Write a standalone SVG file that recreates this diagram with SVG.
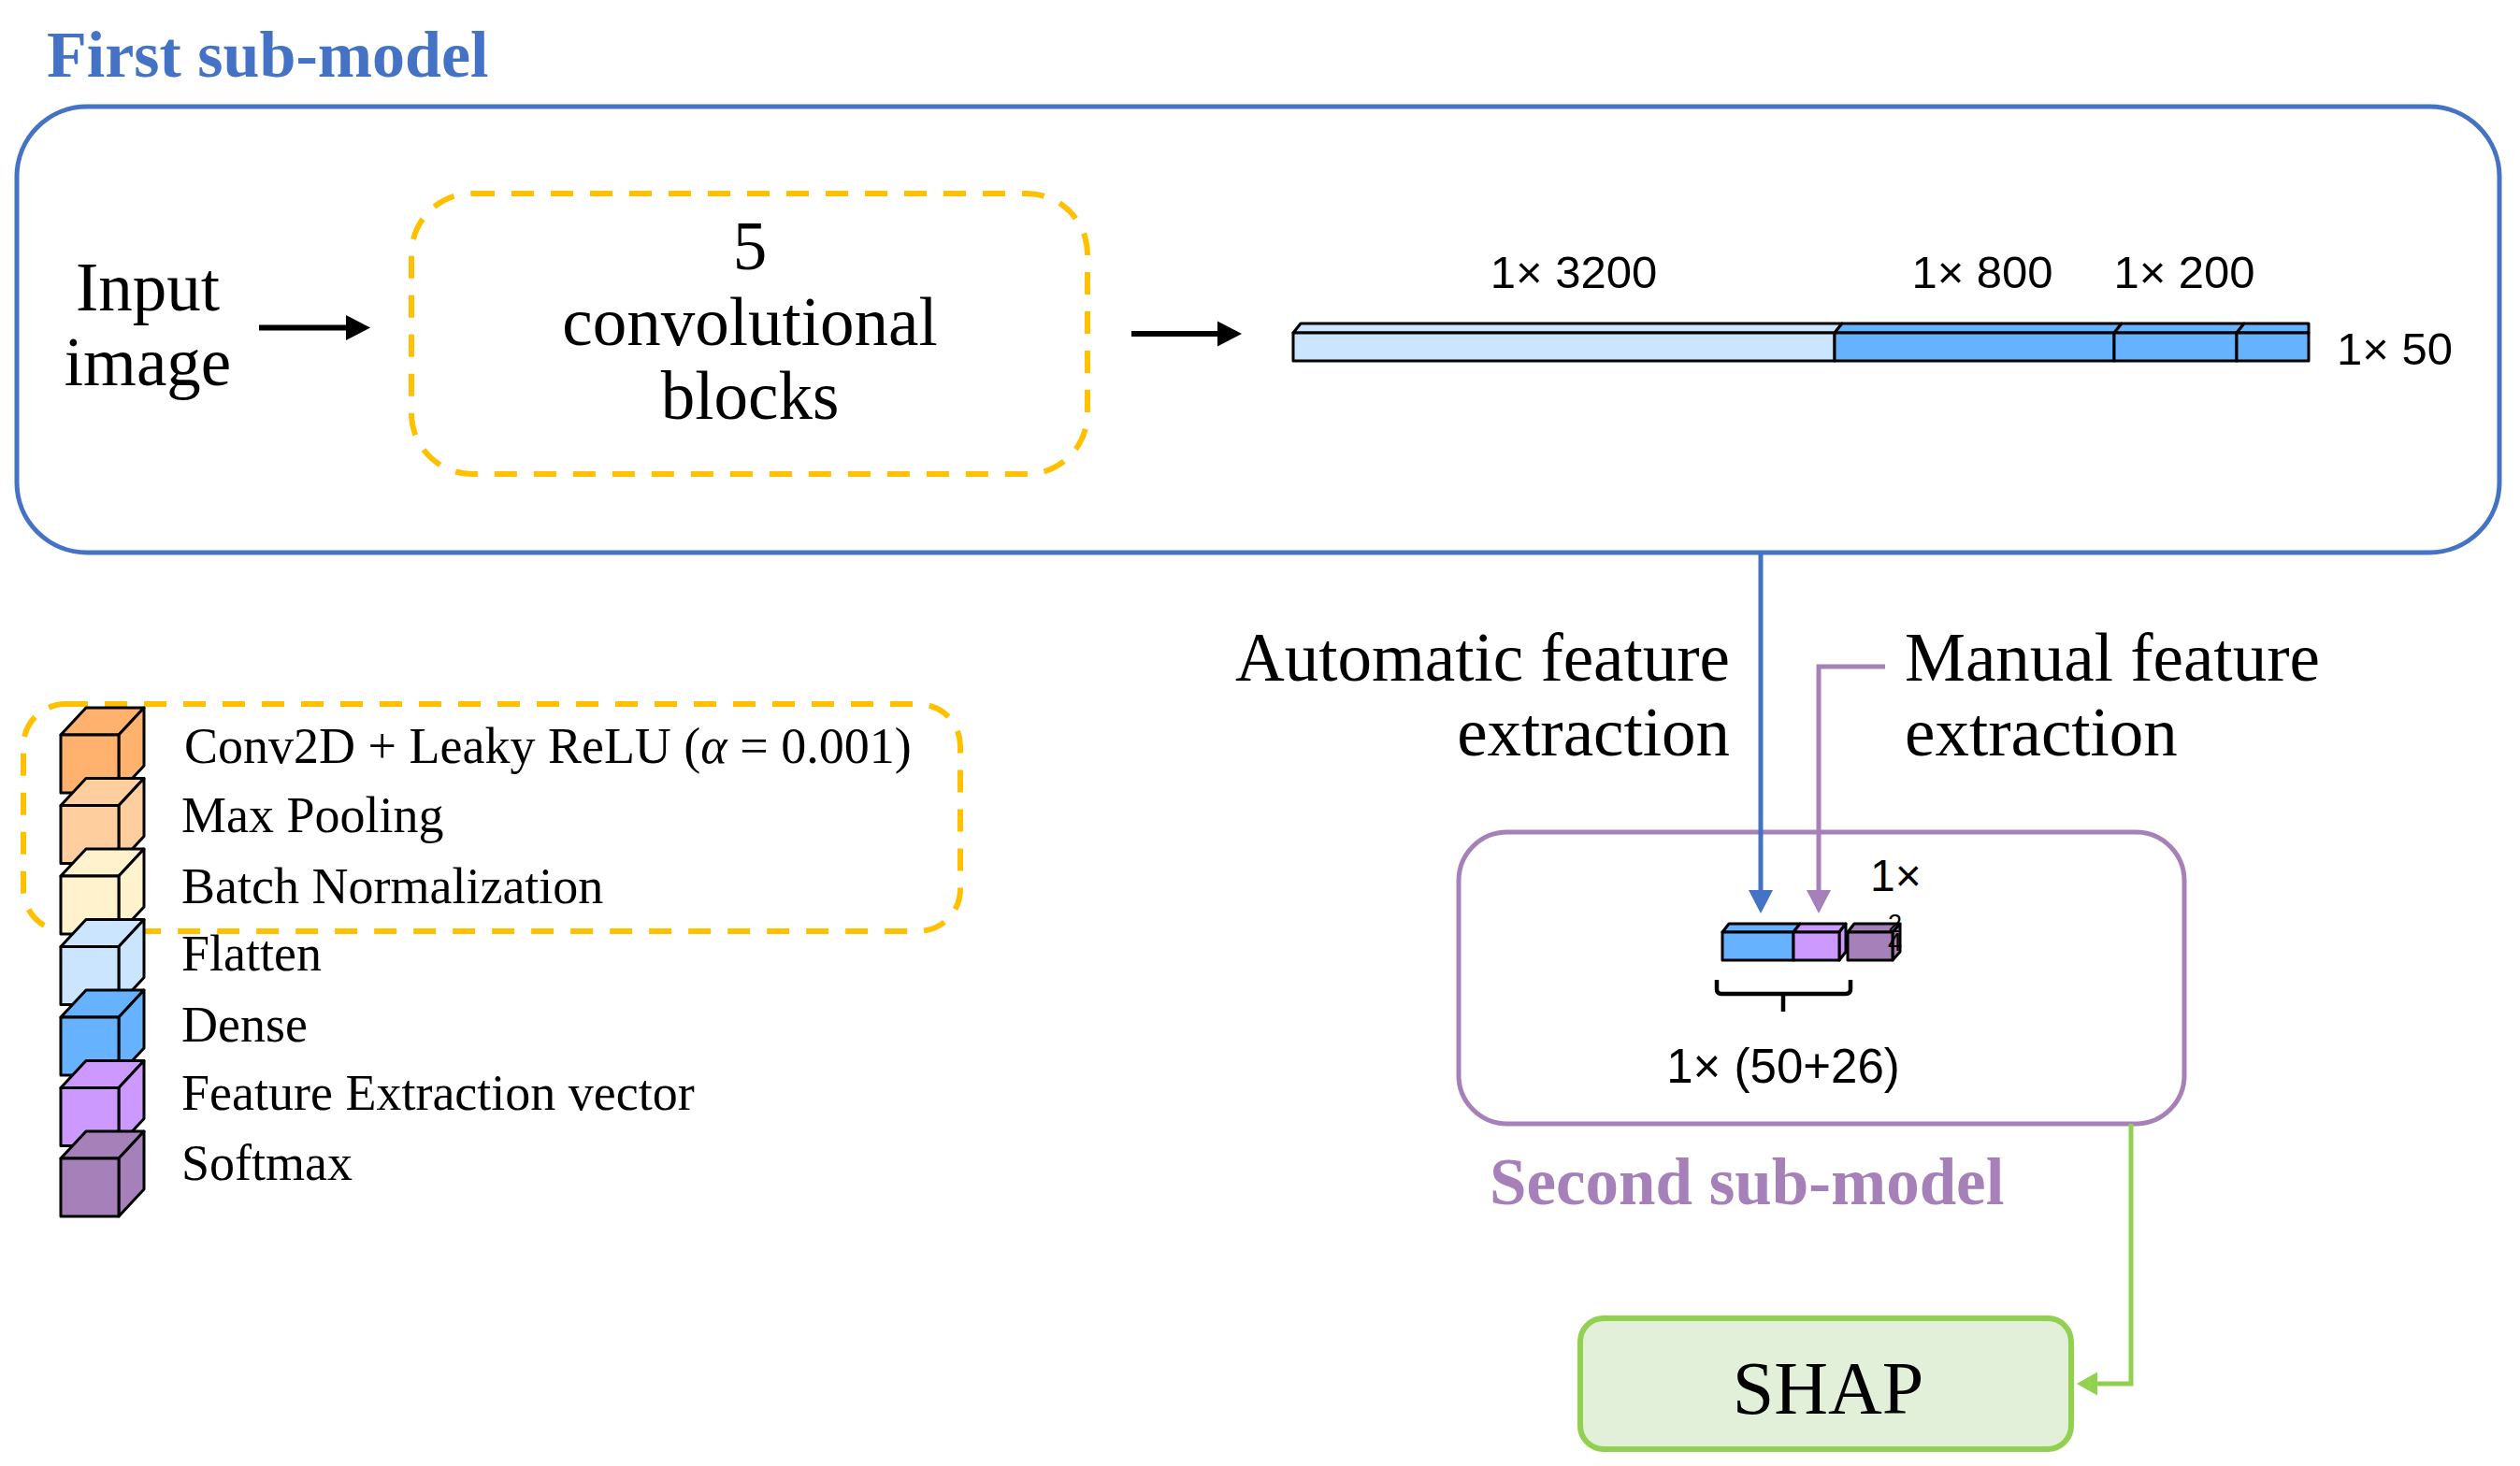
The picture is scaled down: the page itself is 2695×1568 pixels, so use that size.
<svg xmlns="http://www.w3.org/2000/svg" width="2695" height="1568" viewBox="0 0 2695 1568">
<defs>
<style>
.serif{font-family:"Liberation Serif","Times New Roman",serif;fill:#000}
.big{font-size:73px}
.leg{font-size:54px}
.title{font-size:70px;font-weight:bold}
.sans{font-family:"Liberation Sans",Arial,sans-serif;fill:#000}
.dim{font-size:49px}
.cube{stroke:#000;stroke-width:3;stroke-linejoin:round}
.dash{fill:none;stroke:#FFC000;stroke-width:6;stroke-dasharray:24 18}
</style>
<marker id="ahBlack" markerUnits="userSpaceOnUse" markerWidth="28" markerHeight="28" refX="2" refY="13.5" orient="auto" viewBox="0 0 28 27"><path d="M0,0 L26,13.5 L0,27 z" fill="#000"/></marker>
<marker id="ahBlue" markerUnits="userSpaceOnUse" markerWidth="28" markerHeight="28" refX="2" refY="13" orient="auto" viewBox="0 0 28 26"><path d="M0,0 L25,13 L0,26 z" fill="#4472C4"/></marker>
<marker id="ahPurple" markerUnits="userSpaceOnUse" markerWidth="28" markerHeight="28" refX="2" refY="13" orient="auto" viewBox="0 0 28 26"><path d="M0,0 L25,13 L0,26 z" fill="#A680B8"/></marker>
<marker id="ahGreen" markerUnits="userSpaceOnUse" markerWidth="26" markerHeight="26" refX="2" refY="12.5" orient="auto" viewBox="0 0 26 25"><path d="M0,0 L22,12.5 L0,25 z" fill="#92D050"/></marker>
</defs>
<rect width="2695" height="1568" fill="#fff"/>

<g id="first-submodel">
<text class="serif title" x="50" y="82" style="fill:#4472C4">First sub-model</text>
<rect x="18" y="114" width="2655" height="477" rx="75" ry="75" fill="none" stroke="#4472C4" stroke-width="5"/>
</g>

<g id="input-image">
<text class="serif big" x="158" y="332" text-anchor="middle">Input</text>
<text class="serif big" x="158" y="412" text-anchor="middle">image</text>
</g>

<g id="conv-blocks">
<rect class="dash" x="440" y="207" width="723" height="300" rx="65" ry="65"/>
<text class="serif big" x="802" y="288" text-anchor="middle">5</text>
<text class="serif big" x="802" y="369" text-anchor="middle">convolutional</text>
<text class="serif big" x="802" y="448" text-anchor="middle">blocks</text>
</g>

<g id="dense-vector">
<polygon class="cube" fill="#CCE5FF" points="1383,356 1391,346 1970,346 1962,356"/>
<rect class="cube" fill="#CCE5FF" x="1383" y="356" width="579" height="30"/>
<polygon class="cube" fill="#66B2FF" points="1962,356 1970,346 2269,346 2261,356"/>
<rect class="cube" fill="#66B2FF" x="1962" y="356" width="299" height="30"/>
<polygon class="cube" fill="#66B2FF" points="2261,356 2269,346 2400,346 2392,356"/>
<rect class="cube" fill="#66B2FF" x="2261" y="356" width="131" height="30"/>
<polygon class="cube" fill="#66B2FF" points="2392,356 2400,346 2469,346 2469,356"/>
<rect class="cube" fill="#66B2FF" x="2392" y="356" width="77" height="30"/>
<text class="sans dim" x="1683" y="308" text-anchor="middle">1× 3200</text>
<text class="sans dim" x="2120" y="308" text-anchor="middle">1× 800</text>
<text class="sans dim" x="2336" y="308" text-anchor="middle">1× 200</text>
<text class="sans dim" x="2499" y="390">1× 50</text>
</g>

<g id="legend">
<rect class="dash" x="25" y="753" width="1002" height="243" rx="45" ry="45"/>
<g id="cube-conv">
<polygon class="cube" fill="#FFB26E" points="65,786 92,757 154,757 127,786"/>
<polygon class="cube" fill="#FFB26E" points="127,786 154,757 154,819 127,848"/>
<rect class="cube" fill="#FFB26E" x="65" y="786" width="62" height="62"/>
</g>
<g id="cube-pool">
<polygon class="cube" fill="#FFCE9E" points="65,861.5 92,832.5 154,832.5 127,861.5"/>
<polygon class="cube" fill="#FFCE9E" points="127,861.5 154,832.5 154,894.5 127,923.5"/>
<rect class="cube" fill="#FFCE9E" x="65" y="861.5" width="62" height="62"/>
</g>
<g id="cube-bn">
<polygon class="cube" fill="#FFF2CC" points="65,937 92,908 154,908 127,937"/>
<polygon class="cube" fill="#FFF2CC" points="127,937 154,908 154,970 127,999"/>
<rect class="cube" fill="#FFF2CC" x="65" y="937" width="62" height="62"/>
</g>
<g id="cube-flatten">
<polygon class="cube" fill="#CCE5FF" points="65,1012.5 92,983.5 154,983.5 127,1012.5"/>
<polygon class="cube" fill="#CCE5FF" points="127,1012.5 154,983.5 154,1045.5 127,1074.5"/>
<rect class="cube" fill="#CCE5FF" x="65" y="1012.5" width="62" height="62"/>
</g>
<g id="cube-dense">
<polygon class="cube" fill="#66B2FF" points="65,1088 92,1059 154,1059 127,1088"/>
<polygon class="cube" fill="#66B2FF" points="127,1088 154,1059 154,1121 127,1150"/>
<rect class="cube" fill="#66B2FF" x="65" y="1088" width="62" height="62"/>
</g>
<g id="cube-feature">
<polygon class="cube" fill="#CC99FF" points="65,1163.5 92,1134.5 154,1134.5 127,1163.5"/>
<polygon class="cube" fill="#CC99FF" points="127,1163.5 154,1134.5 154,1196.5 127,1225.5"/>
<rect class="cube" fill="#CC99FF" x="65" y="1163.5" width="62" height="62"/>
</g>
<g id="cube-softmax">
<polygon class="cube" fill="#A680B8" points="65,1239 92,1210 154,1210 127,1239"/>
<polygon class="cube" fill="#A680B8" points="127,1239 154,1210 154,1272 127,1301"/>
<rect class="cube" fill="#A680B8" x="65" y="1239" width="62" height="62"/>
</g>
<text class="serif leg" x="197" y="816">Conv2D + Leaky ReLU (<tspan font-style="italic">α</tspan> = 0.001)</text>
<text class="serif leg" x="194" y="890">Max Pooling</text>
<text class="serif leg" x="194" y="966">Batch Normalization</text>
<text class="serif leg" x="194" y="1038">Flatten</text>
<text class="serif leg" x="194" y="1114">Dense</text>
<text class="serif leg" x="194" y="1187">Feature Extraction vector</text>
<text class="serif leg" x="194" y="1262">Softmax</text>
</g>

<g id="automatic-label">
<text class="serif big" x="1850" y="728" text-anchor="end">Automatic feature</text>
<text class="serif big" x="1850" y="808" text-anchor="end">extraction</text>
</g>
<g id="manual-label">
<text class="serif big" x="2037" y="728">Manual feature</text>
<text class="serif big" x="2037" y="808">extraction</text>
</g>

<g id="second-submodel">
<rect x="1560" y="890" width="776" height="312" rx="52" ry="52" fill="none" stroke="#A680B8" stroke-width="5"/>
<text class="serif title" x="1593" y="1288" style="fill:#A680B8;font-size:71px">Second sub-model</text>
<polygon class="cube" fill="#66B2FF" points="1842,997 1849,988 1925,988 1918,997"/>
<rect class="cube" fill="#66B2FF" x="1842" y="997" width="76" height="30"/>
<polygon class="cube" fill="#CC99FF" points="1918,997 1925,988 1974,988 1967,997"/>
<polygon class="cube" fill="#CC99FF" points="1967,997 1974,988 1974,1018 1967,1027"/>
<rect class="cube" fill="#CC99FF" x="1918" y="997" width="49" height="30"/>
<polygon class="cube" fill="#A680B8" points="1976,997 1983,988 2032,988 2024,997"/>
<polygon class="cube" fill="#A680B8" points="2024,997 2032,988 2032,1018 2024,1027"/>
<rect class="cube" fill="#A680B8" x="1976" y="997" width="48" height="30"/>
<text class="sans" font-size="48" x="2000" y="953">1×</text>
<text class="sans" font-size="27"><tspan x="2019" y="997">2</tspan><tspan x="2019" y="1017">4</tspan></text>
<path d="M1836,1048 L1836,1058 Q1836,1063 1841,1063 L1974,1063 Q1979,1063 1979,1058 L1979,1048 M1907,1063 L1907,1082" fill="none" stroke="#000" stroke-width="4.5"/>
<text class="sans" font-size="51" x="1907" y="1158" text-anchor="middle">1× (50+26)</text>
</g>

<g id="shap">
<rect x="1690" y="1410" width="525" height="140" rx="25" ry="25" fill="#E2F0D9" stroke="#92D050" stroke-width="6"/>
<text class="serif" font-size="80" x="1955" y="1512" text-anchor="middle">SHAP</text>
</g>

<g id="connectors" fill="none">
<line x1="277" y1="350.5" x2="372" y2="350.5" stroke="#000" stroke-width="6" marker-end="url(#ahBlack)"/>
<line x1="1210" y1="357" x2="1304" y2="357" stroke="#000" stroke-width="6" marker-end="url(#ahBlack)"/>
<line x1="1883" y1="591" x2="1883" y2="954" stroke="#4472C4" stroke-width="5" marker-end="url(#ahBlue)"/>
<polyline points="2016,713 1945,713 1945,954" stroke="#A680B8" stroke-width="5" marker-end="url(#ahPurple)"/>
<polyline points="2279,1202 2279,1480 2241,1480" stroke="#92D050" stroke-width="5" marker-end="url(#ahGreen)"/>
</g>
</svg>
